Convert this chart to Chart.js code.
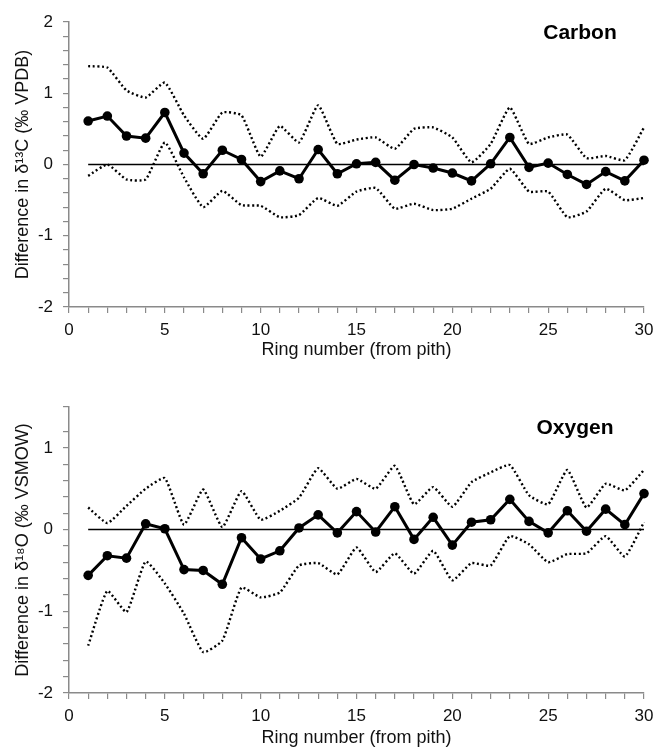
<!DOCTYPE html>
<html>
<head>
<meta charset="utf-8">
<script src="https://cdn.jsdelivr.net/npm/chart.js@4.4.1/dist/chart.umd.min.js"></script>
<style>
    html, body { margin: 0; padding: 0; background: #ffffff; }
    body { width: 658px; height: 750px; position: relative; overflow: hidden; }
    .panel { position: absolute; left: 0; width: 658px; }
    #carbonPanel { top: 0; height: 365px; }
    #oxygenPanel { top: 365px; height: 385px; }
</style>
</head>
<body>
<div class="panel" id="carbonPanel"><canvas id="carbonChart"></canvas></div>
<div class="panel" id="oxygenPanel"><canvas id="oxygenChart"></canvas></div>
<script>
// Ring numbers (x axis categories)
const rings = [1, 2, 3, 4, 5, 6, 7, 8, 9, 10, 11, 12, 13, 14, 15,
               16, 17, 18, 19, 20, 21, 22, 23, 24, 25, 26, 27, 28, 29, 30];

// Carbon: mean difference and the dotted envelope
const carbonMean  = [0.61, 0.68, 0.40, 0.37, 0.73, 0.16, -0.13, 0.20, 0.07, -0.24,
                     -0.09, -0.20, 0.21, -0.13, 0.01, 0.03, -0.22, 0.00, -0.05, -0.12,
                     -0.23, 0.01, 0.38, -0.04, 0.02, -0.14, -0.28, -0.10, -0.23, 0.06];
const carbonUpper = [1.38, 1.36, 1.04, 0.94, 1.15, 0.69, 0.36, 0.73, 0.69, 0.11,
                     0.54, 0.31, 0.83, 0.29, 0.35, 0.38, 0.22, 0.50, 0.52, 0.38,
                     0.03, 0.29, 0.80, 0.29, 0.38, 0.42, 0.09, 0.12, 0.06, 0.52];
const carbonLower = [-0.16, 0.00, -0.21, -0.21, 0.31, -0.18, -0.60, -0.37, -0.57, -0.58,
                     -0.74, -0.71, -0.47, -0.58, -0.38, -0.33, -0.62, -0.55, -0.64, -0.62,
                     -0.48, -0.34, -0.06, -0.38, -0.38, -0.74, -0.66, -0.34, -0.50, -0.47];

// Oxygen: mean difference and the dotted envelope
const oxygenMean  = [-0.56, -0.32, -0.35, 0.07, 0.01, -0.49, -0.50, -0.67, -0.10, -0.36,
                     -0.26, 0.02, 0.18, -0.04, 0.22, -0.03, 0.28, -0.12, 0.15, -0.19,
                     0.09, 0.12, 0.37, 0.10, -0.04, 0.23, -0.02, 0.25, 0.06, 0.44];
const oxygenUpper = [0.27, 0.08, 0.29, 0.50, 0.63, 0.06, 0.49, 0.03, 0.47, 0.12,
                     0.23, 0.39, 0.75, 0.50, 0.62, 0.50, 0.78, 0.31, 0.52, 0.28,
                     0.58, 0.70, 0.79, 0.42, 0.31, 0.73, 0.27, 0.56, 0.48, 0.73];
const oxygenLower = [-1.42, -0.75, -1.01, -0.39, -0.66, -1.03, -1.50, -1.36, -0.71, -0.83,
                     -0.77, -0.44, -0.41, -0.55, -0.22, -0.52, -0.29, -0.54, -0.26, -0.62,
                     -0.41, -0.44, -0.08, -0.18, -0.40, -0.30, -0.29, -0.08, -0.33, 0.09];

// Axis ranges and labels
const xRange = [0, 30];
const carbonYRange = [-2, 2];
const oxygenYRange = [-2, 1.5];
const xTitle = 'Ring number (from pith)';
const carbonYTitle = 'Difference in \u03B4\u00B9\u00B3C (\u2030 VPDB)';
const oxygenYTitle = 'Difference in \u03B4\u00B9\u2078O (\u2030 VSMOW)';

const FONT = "'Liberation Sans', Arial, Helvetica, sans-serif";
const AXIS_GREY = '#8a8a8a';

function toPoints(values) {
    return rings.map((r, i) => ({ x: r, y: values[i] }));
}

// Draws the panel name (Carbon / Oxygen) in the top right of the plot
const panelLabel = {
    id: 'panelLabel',
    afterDraw(chart, args, opts) {
        const { ctx, chartArea } = chart;
        ctx.save();
        ctx.font = 'bold 21px ' + FONT;
        ctx.fillStyle = '#000';
        ctx.textAlign = 'center';
        ctx.textBaseline = 'middle';
        ctx.fillText(opts.text, chartArea.right - opts.dx, chartArea.top + opts.dy);
        ctx.restore();
    }
};

function makeChart(canvasId, mean, upper, lower, yRange, yTitle, name, layout) {
    const ctx = document.getElementById(canvasId).getContext('2d');
    const dotted = {
        borderColor: '#000',
        borderWidth: 2.4,
        borderDash: [2, 2.6],
        pointRadius: 0,
        tension: 0.15,
        fill: false,
        clip: false
    };
    return new Chart(ctx, {
        type: 'line',
        data: {
            datasets: [
                {
                    label: 'mean',
                    data: toPoints(mean),
                    borderColor: '#000',
                    backgroundColor: '#000',
                    borderWidth: 3,
                    pointRadius: 4.8,
                    pointBorderWidth: 0,
                    tension: 0,
                    clip: false
                },
                {
                    label: 'zero',
                    data: toPoints(rings.map(() => 0)),
                    borderColor: '#000',
                    borderWidth: 1.6,
                    pointRadius: 0,
                    tension: 0,
                    clip: false
                },
                Object.assign({ label: 'upper', data: toPoints(upper) }, dotted),
                Object.assign({ label: 'lower', data: toPoints(lower) }, dotted)
            ]
        },
        options: {
            responsive: true,
            maintainAspectRatio: false,
            animation: false,
            events: [],
            layout: {
                padding: { left: 0, right: 14, top: layout.top, bottom: 0 }
            },
            plugins: {
                legend: { display: false },
                tooltip: { enabled: false },
                panelLabel: { text: name, dx: layout.labelDx, dy: layout.labelDy }
            },
            scales: {
                x: {
                    type: 'linear',
                    min: xRange[0],
                    max: xRange[1],
                    afterFit: (scale) => {
                        scale.height = layout.xHeight;
                        scale.paddingRight = 10;
                    },
                    border: { display: true, color: AXIS_GREY, width: 1.5 },
                    grid: { drawOnChartArea: false, drawTicks: true, tickLength: 6, color: AXIS_GREY, lineWidth: 1.2 },
                    ticks: {
                        stepSize: 1,
                        autoSkip: false,
                        maxRotation: 0,
                        padding: 7,
                        color: '#111',
                        font: { family: FONT, size: 17 },
                        callback: (v) => (v % 5 === 0 ? String(v) : '')
                    },
                    title: {
                        display: true,
                        text: xTitle,
                        color: '#111',
                        font: { family: FONT, size: 18 },
                        padding: { top: 0, bottom: layout.xTitlePad }
                    }
                },
                y: {
                    type: 'linear',
                    min: yRange[0],
                    max: yRange[1],
                    afterFit: (scale) => { scale.width = 69; },
                    border: { display: true, color: AXIS_GREY, width: 1.5 },
                    grid: { drawOnChartArea: false, drawTicks: true, tickLength: 6, color: AXIS_GREY, lineWidth: 1.2 },
                    ticks: {
                        stepSize: 0.2,
                        maxTicksLimit: 100,
                        autoSkip: false,
                        padding: 10,
                        color: '#111',
                        font: { family: FONT, size: 17 },
                        callback: (v) => (Math.abs(v - Math.round(v)) < 1e-6 ? String(Math.round(v)) : '')
                    },
                    title: {
                        display: true,
                        text: yTitle,
                        color: '#111',
                        font: { family: FONT, size: 18 },
                        padding: { top: 12, bottom: 0 }
                    }
                }
            }
        },
        plugins: [panelLabel]
    });
}

makeChart('carbonChart', carbonMean, carbonUpper, carbonLower, carbonYRange, carbonYTitle, 'Carbon',
    { top: 22, xHeight: 58, xTitlePad: 4, labelDx: 64, labelDy: 11 });
makeChart('oxygenChart', oxygenMean, oxygenUpper, oxygenLower, oxygenYRange, oxygenYTitle, 'Oxygen',
    { top: 42, xHeight: 57, xTitlePad: 1, labelDx: 69, labelDy: 21 });
</script>
</body>
</html>
